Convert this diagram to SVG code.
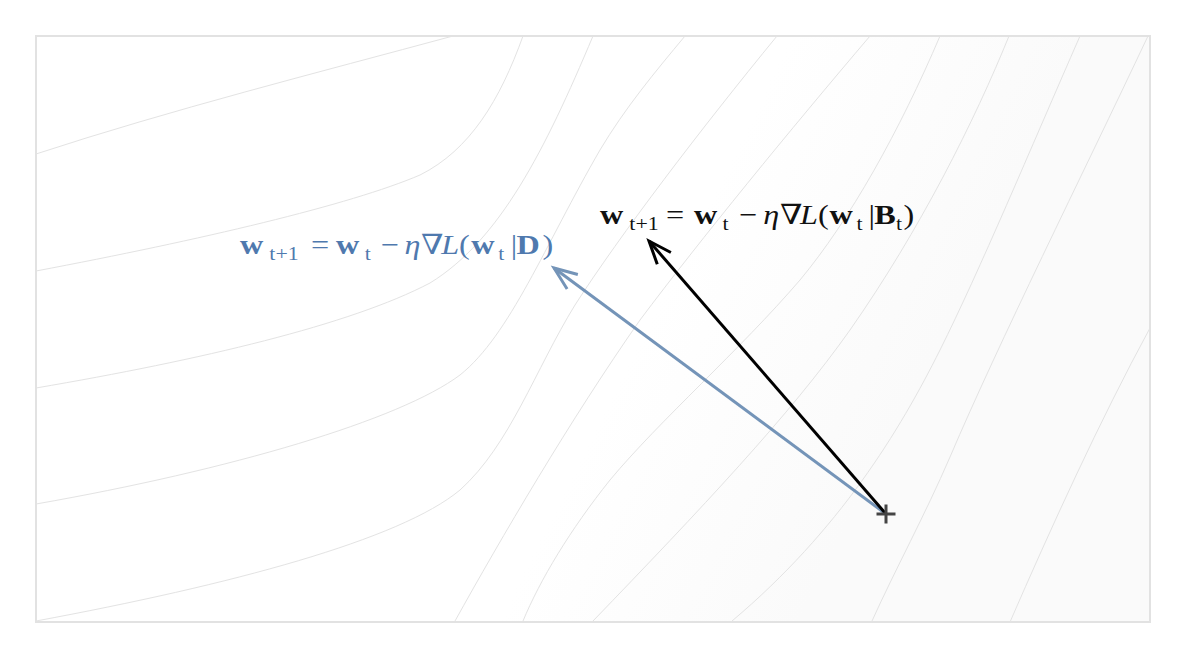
<svg xmlns="http://www.w3.org/2000/svg" width="1200" height="666" viewBox="0 0 1200 666">
  <style>
    .contour { fill: none; stroke: #e3e3e3; stroke-width: 1; }
    .eq { font-family: "Liberation Serif", "DejaVu Serif", serif; font-size: 28px; }
    .sub { font-size: 19px; font-weight: normal; font-style: normal; }
    .b { font-weight: bold; }
    .i { font-style: italic; }
    .blue { fill: #4f79ae; }
    .black { fill: #111111; }
  </style>
  <defs>
    <linearGradient id="shade" gradientUnits="userSpaceOnUse" x1="660" y1="300" x2="900" y2="420">
      <stop offset="0" stop-color="#ffffff"/>
      <stop offset="1" stop-color="#fafafa"/>
    </linearGradient>
    <marker id="head-blue" markerUnits="userSpaceOnUse" markerWidth="40" markerHeight="40" viewBox="-30 -20 40 40" refX="0" refY="0" orient="auto" overflow="visible">
      <path d="M-23,-9 L0,0 L-23,9" fill="none" stroke="#7494b8" stroke-width="3"/>
    </marker>
    <marker id="head-black" markerUnits="userSpaceOnUse" markerWidth="40" markerHeight="40" viewBox="-30 -20 40 40" refX="0" refY="0" orient="auto" overflow="visible">
      <path d="M-23,-9 L0,0 L-23,9" fill="none" stroke="#000000" stroke-width="3"/>
    </marker>
  </defs>

  <rect x="0" y="0" width="1200" height="666" fill="#ffffff"/>

  <g id="frame">
    <rect x="36" y="36" width="1114" height="586" fill="url(#shade)" stroke="#e2e2e2" stroke-width="2"/>
  </g>

  <g id="contours">
    <path class="contour" d="M36,154 C170,110 320,72 453,36"/>
    <path class="contour" d="M36,271 C200,240 350,205 420,175 C470,150 500,100 523,36"/>
    <path class="contour" d="M36,388 C200,360 350,325 430,283 C500,240 545,150 593,36"/>
    <path class="contour" d="M36,504 C230,470 400,420 460,375 C510,335 545,245 600,150 C625,108 655,72 685,36"/>
    <path class="contour" d="M36,621 C230,585 400,540 460,490 C510,445 535,370 575,305 C620,235 700,130 777,36"/>
    <path class="contour" d="M870,36 C790,130 700,240 640,320 C570,420 500,540 455,621"/>
    <path class="contour" d="M940,36 C900,130 850,220 800,280 C740,350 660,420 610,480 C570,530 540,580 523,621"/>
    <path class="contour" d="M1009,36 C975,120 920,230 850,330 C790,415 700,510 593,621"/>
    <path class="contour" d="M1080,36 C1030,150 980,270 940,350 C900,430 840,530 732,621"/>
    <path class="contour" d="M1148,36 C1080,180 1000,340 950,457 C925,515 895,570 872,621"/>
    <path class="contour" d="M1150,328 C1100,420 1050,530 1010,622"/>
  </g>

  <g id="connectors">
    <line id="full-batch-step" x1="886" y1="514" x2="554" y2="268" stroke="#7494b8" stroke-width="3" marker-end="url(#head-blue)"/>
    <line id="mini-batch-step" x1="886" y1="514" x2="649" y2="241" stroke="#000000" stroke-width="3" marker-end="url(#head-black)"/>
  </g>

  <g id="start-point">
    <path d="M876.5,514 H895.5 M886,504.5 V523.5" stroke="#444444" stroke-width="3" fill="none"/>
  </g>

  <g id="label-full-batch" transform="translate(240,0) scale(1.15,1)">
    <text class="eq blue" y="254">
      <tspan class="b" x="0">w</tspan><tspan class="sub" x="25.5" y="260">t+1</tspan><tspan x="61.7" y="254">=</tspan><tspan class="b" x="83.5">w</tspan><tspan class="sub" x="108.5" y="260">t</tspan><tspan x="122.6" y="254">−</tspan><tspan class="i" x="143">η</tspan><tspan x="157.5">∇</tspan><tspan class="i" x="175">L</tspan><tspan x="190.5">(</tspan><tspan class="b" x="201">w</tspan><tspan class="sub" x="224.5" y="260">t</tspan><tspan x="235.5" y="254">|</tspan><tspan class="b" x="240.5">D</tspan><tspan x="263">)</tspan>
    </text>
  </g>

  <g id="label-mini-batch" transform="translate(600,0) scale(1.15,1)">
    <text class="eq black" y="224">
      <tspan class="b" x="0">w</tspan><tspan class="sub" x="25.5" y="230">t+1</tspan><tspan x="57.4" y="224">=</tspan><tspan class="b" x="81.7">w</tspan><tspan class="sub" x="106.5" y="230">t</tspan><tspan x="121.2" y="224">−</tspan><tspan class="i" x="142">η</tspan><tspan x="156.5">∇</tspan><tspan class="i" x="174">L</tspan><tspan x="189.5">(</tspan><tspan class="b" x="199.5">w</tspan><tspan class="sub" x="223" y="230">t</tspan><tspan x="233.5" y="224">|</tspan><tspan class="b" x="238.5">B</tspan><tspan class="sub" x="257.5" y="230">t</tspan><tspan x="264" y="224">)</tspan>
    </text>
  </g>
</svg>
